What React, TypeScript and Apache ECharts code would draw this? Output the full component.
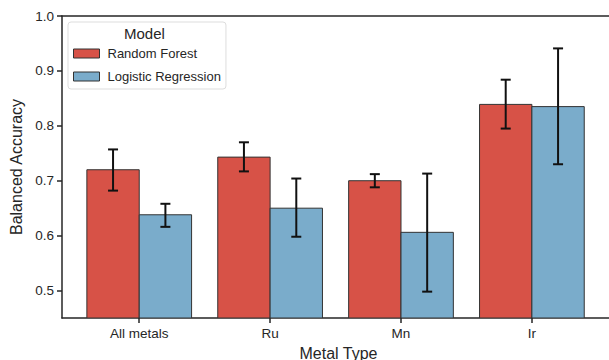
import React, { useEffect, useRef } from "react";
import * as echarts from "echarts";

const categories = ["All metals", "Ru", "Mn", "Ir"];
const seriesNames = ["Random Forest", "Logistic Regression"];
const rfMean = [0.72, 0.743, 0.70, 0.839];
const rfLow = [0.682, 0.717, 0.688, 0.795];
const rfHigh = [0.757, 0.770, 0.712, 0.884];
const lrMean = [0.638, 0.650, 0.606, 0.835];
const lrLow = [0.616, 0.598, 0.498, 0.730];
const lrHigh = [0.658, 0.704, 0.713, 0.941];
const yTicks = [0.5, 0.6, 0.7, 0.8, 0.9, 1.0];
const colors = ["#d75247", "#7aaccb"];

const FONT = "Liberation Sans, Arial, sans-serif";
const Y_MIN = 0.45;
const HALF = 0.2;
const X_MIN = -0.59;
const X_MAX = 3.635;

export default function App() {
  const ref = useRef<HTMLDivElement>(null);
  useEffect(() => {
    if (!ref.current) return;
    const chart = echarts.init(ref.current, null, { renderer: "svg" });
    const offsets = [-HALF, HALF];
    const means = [rfMean, lrMean];
    const lows = [rfLow, lrLow];
    const highs = [rfHigh, lrHigh];

    const barSeries = seriesNames.map((name, s) => ({
      name,
      type: "custom",
      xAxisIndex: 0,
      yAxisIndex: 0,
      z: 2,
      clip: true,
      itemStyle: { color: colors[s], borderColor: "#333", borderWidth: 1 },
      data: categories.map((_, i) => [i, means[s][i]]),
      renderItem: (params: any, api: any) => {
        const x = api.value(0) + offsets[s];
        const v = api.value(1);
        const p1 = api.coord([x - HALF, v]);
        const p2 = api.coord([x + HALF, Y_MIN]);
        return {
          type: "rect",
          shape: { x: p1[0], y: p1[1], width: p2[0] - p1[0], height: p2[1] - p1[1] },
          style: { fill: colors[s], stroke: "#333", lineWidth: 1 },
        };
      },
    }));

    const errSeries = seriesNames.map((name, s) => ({
      name: name + " err",
      type: "custom",
      xAxisIndex: 0,
      yAxisIndex: 0,
      z: 5,
      silent: true,
      data: categories.map((_, i) => [i, lows[s][i], highs[s][i]]),
      renderItem: (params: any, api: any) => {
        const x = api.value(0) + offsets[s];
        const lo = api.coord([x, api.value(1)]);
        const hi = api.coord([x, api.value(2)]);
        const cap = 5;
        const st = { stroke: "#111", lineWidth: 2 };
        return {
          type: "group",
          children: [
            { type: "line", shape: { x1: lo[0], y1: lo[1], x2: hi[0], y2: hi[1] }, style: st },
            { type: "line", shape: { x1: lo[0] - cap, y1: lo[1], x2: lo[0] + cap, y2: lo[1] }, style: st },
            { type: "line", shape: { x1: hi[0] - cap, y1: hi[1], x2: hi[0] + cap, y2: hi[1] }, style: st },
          ],
        };
      },
    }));

    chart.setOption({
      animation: false,
      textStyle: { fontFamily: FONT },
      grid: { left: 62, right: -6, top: 16, bottom: 42, outerBoundsMode: "none", containLabel: false, show: false },
      xAxis: [
        {
          type: "value",
          min: X_MIN,
          max: X_MAX,
          name: "Metal Type",
          nameLocation: "middle",
          nameGap: 27,
          nameTextStyle: { fontSize: 16, color: "#262626", fontFamily: FONT },
          axisLine: { show: true, onZero: false, lineStyle: { color: "#262626", width: 1.5 } },
          axisTick: { show: true, customValues: [0, 1, 2, 3], length: 5, lineStyle: { color: "#262626", width: 1.5 } },
          axisLabel: {
            customValues: [0, 1, 2, 3],
            formatter: (v: number) => categories[Math.round(v)] ?? "",
            fontSize: 13.5,
            color: "#262626",
            margin: 8,
            fontFamily: FONT,
          },
          splitLine: { show: false },
          splitArea: { show: false },
          minorSplitLine: { show: false },
        },
        {
          type: "value",
          position: "top",
          min: X_MIN,
          max: X_MAX,
          axisLine: { show: true, onZero: false, lineStyle: { color: "#262626", width: 1.5 } },
          axisTick: { show: false },
          axisLabel: { show: false },
          splitLine: { show: false },
          splitArea: { show: false },
        },
      ],
      yAxis: {
        type: "value",
        min: Y_MIN,
        max: 1.0,
        name: "Balanced Accuracy",
        nameLocation: "middle",
        nameGap: 36,
        nameTextStyle: { fontSize: 16, color: "#262626", fontFamily: FONT },
        axisLine: { show: true, onZero: false, lineStyle: { color: "#262626", width: 1.5 } },
        axisTick: { show: true, customValues: yTicks, length: 5, lineStyle: { color: "#262626", width: 1.5 } },
        axisLabel: {
          customValues: yTicks,
          formatter: (v: number) => v.toFixed(1),
          fontSize: 13.5,
          color: "#262626",
          margin: 8,
          fontFamily: FONT,
        },
        splitLine: { show: false },
        splitArea: { show: false },
      },
      legend: {
        data: seriesNames.map((n, s) => ({
          name: n,
          icon: "rect",
          itemStyle: { color: colors[s], borderColor: "#333", borderWidth: 1 },
        })),
        orient: "vertical",
        left: 68,
        top: 22,
        padding: [25, 5, 6, 5],
        itemWidth: 26,
        itemHeight: 9,
        itemGap: 10,
        backgroundColor: "rgba(255,255,255,0.8)",
        borderColor: "#dddddd",
        borderWidth: 1,
        borderRadius: 3,
        textStyle: { fontSize: 13, color: "#262626", fontFamily: FONT, padding: [0, 0, 0, 3] },
        selectedMode: false,
      },
      graphic: [
        {
          type: "text",
          left: 124,
          top: 26,
          z: 10,
          style: { text: "Model", fontSize: 15, fill: "#262626", fontFamily: FONT },
        },
      ],
      series: [...barSeries, ...errSeries],
    });
    return () => chart.dispose();
  }, []);
  return <div ref={ref} style={{ width: 609, height: 360, position: "absolute", left: 0, top: 0, overflow: "hidden" }} />;
}
